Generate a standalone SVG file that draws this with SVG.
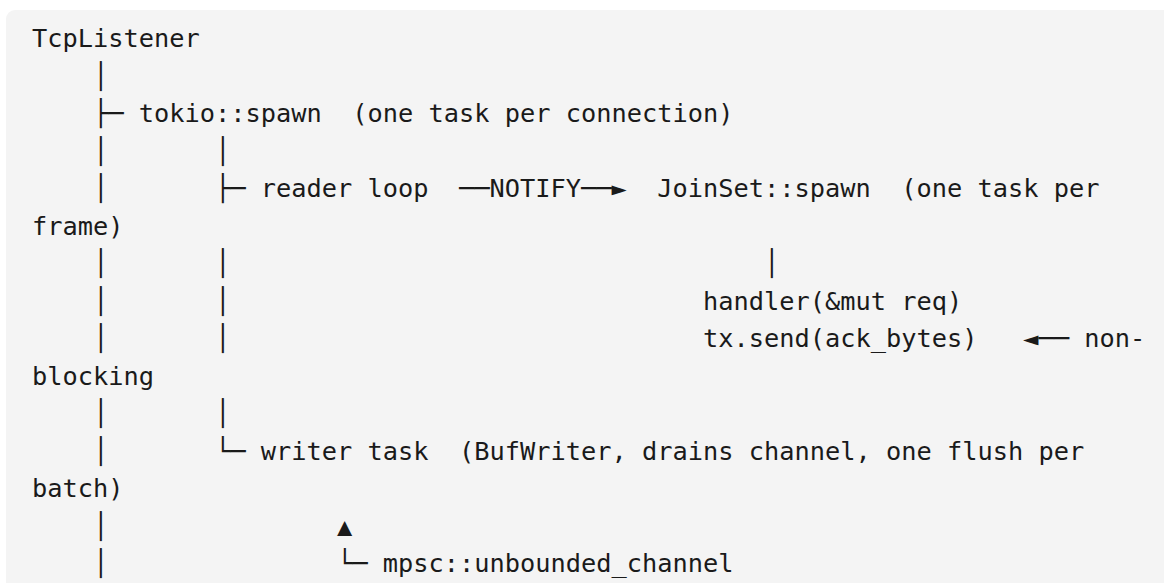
<svg xmlns="http://www.w3.org/2000/svg" width="1164" height="583" viewBox="0 0 1164 583">
<style>
.t{font-family:"DejaVu Sans Mono","Liberation Mono",monospace;font-size:25.33px;fill:#1a1a1a;white-space:pre}
</style>
<rect x="0" y="0" width="1164" height="583" fill="#ffffff"/>
<rect x="6" y="10" width="1240" height="700" rx="9" fill="#f4f4f4"/>
<g id="tree">
<text class="t" x="32" y="47" xml:space="preserve">TcpListener</text>
<text class="t" x="32" y="84.5" xml:space="preserve">    │</text>
<text class="t" x="32" y="122" xml:space="preserve">    ├─ tokio::spawn  (one task per connection)</text>
<text class="t" x="32" y="159.5" xml:space="preserve">    │       │</text>
<text class="t" x="32" y="197" xml:space="preserve">    │       ├─ reader loop  ──NOTIFY──►  JoinSet::spawn  (one task per</text>
<text class="t" x="32" y="234.5" xml:space="preserve">frame)</text>
<text class="t" x="32" y="272" xml:space="preserve">    │       │                                   │</text>
<text class="t" x="32" y="309.5" xml:space="preserve">    │       │                               handler(&amp;mut req)</text>
<text class="t" x="32" y="347" xml:space="preserve">    │       │                               tx.send(ack_bytes)   ◄── non-</text>
<text class="t" x="32" y="384.5" xml:space="preserve">blocking</text>
<text class="t" x="32" y="422" xml:space="preserve">    │       │</text>
<text class="t" x="32" y="459.5" xml:space="preserve">    │       └─ writer task  (BufWriter, drains channel, one flush per</text>
<text class="t" x="32" y="497" xml:space="preserve">batch)</text>
<text class="t" x="32" y="534.5" xml:space="preserve">    │               ▲</text>
<text class="t" x="32" y="572" xml:space="preserve">    │               └─ mpsc::unbounded_channel</text>
</g>
</svg>
